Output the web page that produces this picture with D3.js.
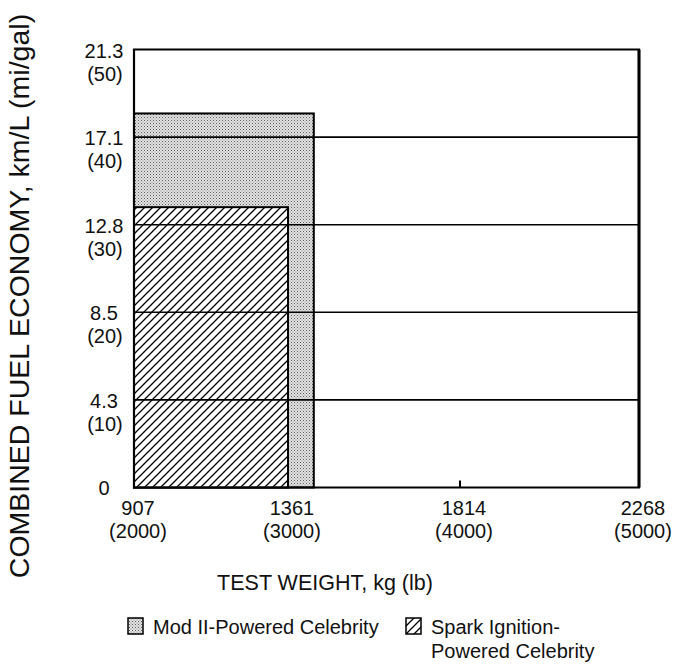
<!DOCTYPE html>
<html>
<head>
<meta charset="utf-8">
<script src="https://cdn.jsdelivr.net/npm/d3@7"></script>
<style>
  body { margin: 0; background: #fff; }
  svg { display: block; font-family: "Liberation Sans", Arial, Helvetica, sans-serif; }
</style>
</head>
<body>
<svg id="chart" width="689" height="668"></svg>
<script>
// ---- data ----
const xTicksLb = [2000, 3000, 4000, 5000];
const xTicksKg = ["907", "1361", "1814", "2268"];
const yTicksMpg = [0, 10, 20, 30, 40, 50];
const yTicksKmL = ["0", "4.3", "8.5", "12.8", "17.1", "21.3"];
const seriesNames = ["Mod II-Powered Celebrity", "Spark Ignition-Powered Celebrity"];
const barStartLb = [2000, 2000];
const barEndLb = [3150, 3000];
const barMpg = [42.7, 32.0];

// ---- layout ----
const svg = d3.select("#chart");
const pLeft = 134, pRight = 639, pTop = 49.5, pBottom = 487.5;

const x = d3.scaleLinear().domain(xTicksLb).range([134, 288, 460, pRight]);
const y = d3.scaleLinear().domain([0, 50]).range([pBottom, pTop]);

// patterns
const defs = svg.append("defs");
const stip = defs.append("pattern").attr("id", "stipple")
  .attr("patternUnits", "userSpaceOnUse").attr("width", 3).attr("height", 3);
stip.append("rect").attr("width", 3).attr("height", 3).attr("fill", "#e2e2e2");
stip.append("rect").attr("x", 0).attr("y", 0).attr("width", 1).attr("height", 1).attr("fill", "#5e5e5e");
stip.append("rect").attr("x", 1.5).attr("y", 1.5).attr("width", 1).attr("height", 1).attr("fill", "#888");

const hatch = defs.append("pattern").attr("id", "hatch")
  .attr("patternUnits", "userSpaceOnUse").attr("width", 8).attr("height", 8);
hatch.append("rect").attr("width", 8).attr("height", 8).attr("fill", "#fff");
hatch.append("path").attr("d", "M-2,2 L2,-2 M0,8 L8,0 M6,10 L10,6")
  .attr("stroke", "#000").attr("stroke-width", 1.3);

const fills = ["url(#stipple)", "url(#hatch)"];

// bars
svg.append("g").selectAll("rect").data(barMpg).join("rect")
  .attr("x", (d, i) => x(barStartLb[i]))
  .attr("y", d => y(d))
  .attr("width", (d, i) => x(barEndLb[i]) - x(barStartLb[i]))
  .attr("height", d => y(0) - y(d))
  .attr("fill", (d, i) => fills[i])
  .attr("stroke", "#000").attr("stroke-width", 2);

// gridlines
svg.append("g").selectAll("line").data(yTicksMpg.filter(v => v > 0 && v < 50)).join("line")
  .attr("x1", pLeft).attr("x2", pRight)
  .attr("y1", d => y(d)).attr("y2", d => y(d))
  .attr("stroke", "#000").attr("stroke-width", 1.6);

// frame
svg.append("path")
  .attr("d", `M${pLeft},${pTop} H${pRight} V${pBottom} H${pLeft} Z`)
  .attr("fill", "none").attr("stroke", "#000").attr("stroke-width", 2.2);
svg.append("line").attr("x1", pRight).attr("x2", pRight).attr("y1", pTop).attr("y2", pBottom)
  .attr("stroke", "#000").attr("stroke-width", 3);

// x axis ticks (inward)
svg.append("g").selectAll("line").data(xTicksLb.slice(1, 3)).join("line")
  .attr("x1", d => x(d)).attr("x2", d => x(d))
  .attr("y1", pBottom).attr("y2", pBottom - 7)
  .attr("stroke", "#000").attr("stroke-width", 2);

// x labels
const xl = svg.append("g").attr("font-size", 20).attr("fill", "#111").attr("text-anchor", "middle");
xTicksLb.forEach((v, i) => {
  xl.append("text").attr("x", x(v) + 4).attr("y", pBottom + 27).text(xTicksKg[i]);
  xl.append("text").attr("x", x(v) + 4).attr("y", pBottom + 50).text("(" + v + ")");
});

// y labels
const yl = svg.append("g").attr("font-size", 20).attr("fill", "#111").attr("text-anchor", "middle");
yTicksMpg.forEach((v, i) => {
  if (v === 0) {
    yl.append("text").attr("x", 104).attr("y", y(v) + 7).text(yTicksKmL[i]);
  } else {
    yl.append("text").attr("x", 104).attr("y", y(v) + 8).text(yTicksKmL[i]);
    yl.append("text").attr("x", 105).attr("y", y(v) + 31).text("(" + v + ")");
  }
});

// axis titles
svg.append("text").attr("x", 325).attr("y", 590).attr("text-anchor", "middle")
  .attr("font-size", 21.5).attr("fill", "#111").text("TEST WEIGHT, kg (lb)");
svg.append("text").attr("transform", "translate(29,296) rotate(-90)").attr("text-anchor", "middle")
  .attr("font-size", 28.5).attr("fill", "#111").text("COMBINED FUEL ECONOMY, km/L (mi/gal)");

// legend
const lg = svg.append("g").attr("font-size", 20).attr("fill", "#111");
const legX = [128, 406];
const legLines = [["Mod II-Powered Celebrity"], ["Spark Ignition-", "Powered Celebrity"]];
seriesNames.forEach((name, i) => {
  lg.append("rect").attr("x", legX[i]).attr("y", 618).attr("width", 15).attr("height", 16)
    .attr("fill", fills[i]).attr("stroke", "#000").attr("stroke-width", 1.5);
  legLines[i].forEach((t, j) => {
    lg.append("text").attr("x", legX[i] + 25).attr("y", 634 + j * 24).text(t);
  });
});
</script>
</body>
</html>
